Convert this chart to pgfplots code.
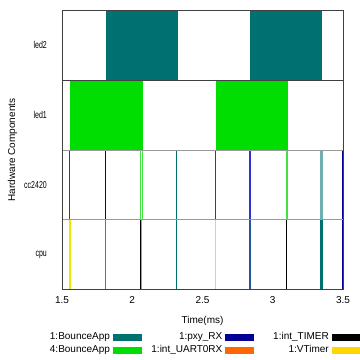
\documentclass[border=0pt]{standalone}
\usepackage{fontspec}
\setmainfont{Liberation Sans}
\usepackage{pgfplots}
\pgfplotsset{compat=1.18}
\definecolor{tealA}{HTML}{007070}
\definecolor{greenA}{HTML}{00DD00}
\definecolor{navyA}{HTML}{000099}
\definecolor{orangeA}{HTML}{FF6600}
\definecolor{yellowA}{HTML}{FFD700}
\definecolor{blueL}{HTML}{3030D0}
\definecolor{greenL}{HTML}{44E044}
\definecolor{tealL}{HTML}{6FAFAF}
\definecolor{yellowL}{HTML}{E8E800}
\definecolor{mixTG}{HTML}{3F8A6A}
\definecolor{mixTB}{HTML}{22559A}
\definecolor{leftc}{HTML}{1A4040}
\definecolor{framec}{HTML}{404040}
\definecolor{gridc}{HTML}{9A9A9A}
\begin{document}
\begin{tikzpicture}
\path[use as bounding box, fill=white] (-62pt,-70.5pt) rectangle (298pt,289.5pt);
\begin{axis}[
  at={(0pt,0pt)}, anchor=south west,
  scale only axis, width=281pt, height=279pt,
  xmin=1.5, xmax=3.5, ymin=0, ymax=4,
  xtick={1.5,2,2.5,3,3.5},
  ytick={0.5,1.5,2.5,3.5},
  yticklabels={\scalebox{0.7}[1]{cpu},\scalebox{0.7}[1]{cc2420},\scalebox{0.7}[1]{led1},\scalebox{0.7}[1]{led2}},
  major tick length=0pt,
  axis line style={draw=framec},
  axis on top,
  /pgf/number format/assume math mode=true,
  tick label style={font=\fontsize{10}{12}\selectfont},
  yticklabel style={inner sep=0pt, xshift=-15pt},
  xticklabel style={inner sep=0pt, yshift=-6.5pt},
  label style={font=\fontsize{10}{12}\selectfont},
  xlabel={Time(ms)},
  ylabel={Hardware Components},
  xlabel style={at={(axis description cs:0.5,0)}, anchor=center, yshift=-31.5pt},
  ylabel style={at={(axis description cs:-0.176,0.5)}, anchor=center},
  legend columns=3,
  legend plot pos=right,
  legend cell align=right,
  legend image code/.code={\fill[#1] (0pt,-3pt) rectangle (28pt,3pt);},
  legend style={at={(axis description cs:-0.057,-0.154)}, anchor=north west,
    draw=none, fill=none, inner sep=0pt, outer sep=0pt,
    column sep=3pt, row sep=4pt,
    font=\fontsize{10}{12}\selectfont,
    nodes={inner sep=0pt, text height=7pt, text depth=2pt}},
]
% ---- led2 (1:BounceApp) bars
\addplot[fill=tealA, draw=none, forget plot] coordinates {(1.811,3) (2.323,3) (2.323,4) (1.811,4)} --cycle;
\addplot[fill=tealA, draw=none, forget plot] coordinates {(2.838,3) (3.352,3) (3.352,4) (2.838,4)} --cycle;
% ---- led1 (4:BounceApp) bars
\addplot[fill=greenA, draw=none, forget plot] coordinates {(1.557,2) (2.074,2) (2.074,3) (1.557,3)} --cycle;
\addplot[fill=greenA, draw=none, forget plot] coordinates {(2.596,2) (3.106,2) (3.106,3) (2.596,3)} --cycle;
% ---- cc2420 row
\addplot[blueL, line width=1.3pt, forget plot] coordinates {(1.555,1) (1.555,2)};
\addplot[navyA, line width=1.3pt, forget plot] coordinates {(1.808,1) (1.808,2)};
\addplot[greenL, line width=1pt, forget plot] coordinates {(2.058,1) (2.058,2)};
\addplot[greenL, line width=1pt, forget plot] coordinates {(2.071,1) (2.071,2)};
\addplot[tealA, line width=1.4pt, forget plot] coordinates {(2.316,1) (2.316,2)};
\addplot[blueL, line width=1.4pt, forget plot] coordinates {(2.594,1) (2.594,2)};
\addplot[blueL, line width=1.4pt, forget plot] coordinates {(2.838,1) (2.838,2)};
\addplot[greenL, line width=1.4pt, forget plot] coordinates {(3.101,1) (3.101,2)};
\addplot[tealL, line width=2.4pt, forget plot] coordinates {(3.347,1) (3.347,2)};
\addplot[navyA, line width=1pt, forget plot] coordinates {(3.499,0) (3.499,2)};
% ---- cpu row
\addplot[yellowL, line width=1.3pt, forget plot] coordinates {(1.557,0) (1.557,1)};
\addplot[mixTG, line width=1.3pt, forget plot] coordinates {(1.811,0) (1.811,1)};
\addplot[black, line width=1pt, forget plot] coordinates {(2.058,0) (2.058,1)};
\addplot[greenL, line width=1pt, forget plot] coordinates {(2.067,0) (2.067,1)};
\addplot[tealA, line width=1.4pt, forget plot] coordinates {(2.316,0) (2.316,1)};
\addplot[yellowL, line width=1.3pt, forget plot] coordinates {(2.594,0) (2.594,1)};
\addplot[mixTB, line width=1.4pt, forget plot] coordinates {(2.838,0) (2.838,1)};
\addplot[black, line width=1.2pt, forget plot] coordinates {(3.099,0) (3.099,1)};
\addplot[tealA, line width=2.4pt, forget plot] coordinates {(3.347,0) (3.347,1)};
% ---- left edge and row boundaries
\addplot[leftc, line width=1.2pt, forget plot] coordinates {(1.501,0) (1.501,4)};
\addplot[framec, line width=0.8pt, forget plot] coordinates {(1.5,3) (3.5,3)};
\addplot[gridc, line width=1pt, forget plot] coordinates {(1.5,2) (3.5,2)};
\addplot[gridc, line width=1pt, forget plot] coordinates {(1.5,1) (3.5,1)};
% ---- legend
\addlegendimage{tealA}\addlegendentry{\makebox[64pt][r]{1:BounceApp}}
\addlegendimage{navyA}\addlegendentry{\makebox[78pt][r]{1:pxy\_RX}}
\addlegendimage{black}\addlegendentry{\makebox[72pt][r]{1:int\_TIMER}}
\addlegendimage{greenA}\addlegendentry{\makebox[64pt][r]{4:BounceApp}}
\addlegendimage{orangeA}\addlegendentry{\makebox[78pt][r]{1:int\_UART0RX}}
\addlegendimage{yellowA}\addlegendentry{\makebox[72pt][r]{1:VTimer}}
\end{axis}
\end{tikzpicture}
\end{document}
